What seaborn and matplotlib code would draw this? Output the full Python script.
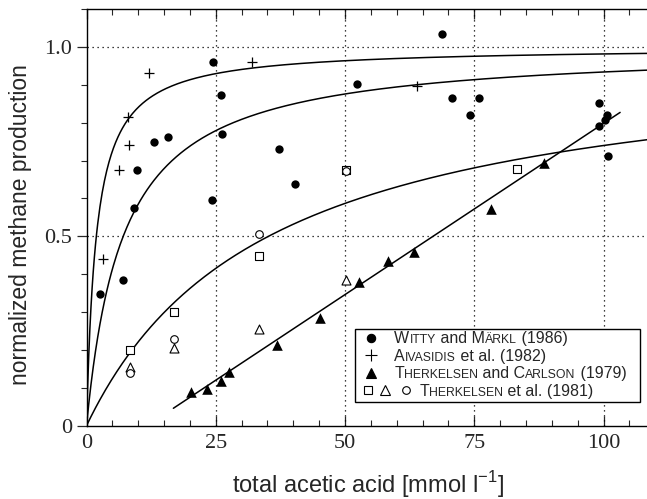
import numpy as np
import pandas as pd
import matplotlib
matplotlib.use('Agg')
import matplotlib.pyplot as plt
import seaborn as sns
from matplotlib.lines import Line2D
from matplotlib.ticker import MultipleLocator, FixedLocator, FuncFormatter
from matplotlib.offsetbox import AnchoredOffsetbox, DrawingArea, HPacker, VPacker, TextArea

# Witty and Maerkl (1986) - filled circles
witty_x = [2.6, 7.0, 9.2, 9.8, 13.1, 15.7, 24.3, 24.4, 26.1, 26.2, 37.3, 40.3,
           52.3, 68.8, 70.6, 74.2, 75.9, 99.1, 99.2, 100.3, 100.7, 100.9]
witty_y = [0.348, 0.384, 0.574, 0.674, 0.749, 0.763, 0.596, 0.960, 0.873, 0.769, 0.731, 0.637,
           0.902, 1.033, 0.864, 0.821, 0.864, 0.852, 0.790, 0.808, 0.820, 0.712]

# Aivasidis et al. (1982) - plus
aiva_x = [3.1, 6.3, 8.1, 8.3, 12.1, 32.1, 64.0]
aiva_y = [0.440, 0.675, 0.815, 0.741, 0.930, 0.960, 0.897]

# Therkelsen and Carlson (1979) - filled triangles
tc_x = [20.2, 23.4, 26.0, 27.6, 36.8, 45.2, 52.7, 58.4, 63.4, 78.2, 88.4]
tc_y = [0.089, 0.096, 0.118, 0.141, 0.214, 0.283, 0.380, 0.435, 0.459, 0.571, 0.694]

# Therkelsen et al. (1981) - open square / triangle / circle
t81_sq_x = [8.5, 16.9, 33.4, 50.1, 83.3]
t81_sq_y = [0.200, 0.299, 0.449, 0.675, 0.677]
t81_tri_x = [8.4, 16.9, 33.4, 50.1]
t81_tri_y = [0.156, 0.204, 0.254, 0.384]
t81_circ_x = [8.4, 16.9, 33.4, 50.1]
t81_circ_y = [0.138, 0.228, 0.505, 0.672]

# fitted curves: saturation constants (y = S/(K+S))
monod_K = [1.9, 7.1, 35.2]
# linear fit line end points
lin_x = [16.8, 103.2]
lin_y = [0.046, 0.827]

sns.set_style('ticks')
plt.rcParams['font.family'] = ['Liberation Sans', 'DejaVu Sans']

fig = plt.figure(figsize=(6.47, 4.99), dpi=100)
ax = fig.add_axes([0.1337, 0.1469, 0.8663, 0.8351])

xmax = 108.4
s_grid = np.linspace(0, xmax, 500)
for K in monod_K:
    sns.lineplot(x=s_grid, y=s_grid / (K + s_grid), color='black', lw=1.1, ax=ax)
sns.lineplot(x=lin_x, y=lin_y, color='black', lw=1.1, ax=ax)

sns.scatterplot(x=witty_x, y=witty_y, marker='o', s=36, color='black', linewidth=0, ax=ax, zorder=3)
sns.scatterplot(x=aiva_x, y=aiva_y, marker='+', s=60, color='black', linewidth=0.9, ax=ax, zorder=3)
sns.scatterplot(x=tc_x, y=tc_y, marker='^', s=58, color='black', linewidth=0, ax=ax, zorder=3)
sns.scatterplot(x=t81_sq_x, y=t81_sq_y, marker='s', s=30, color='black', facecolors='white',
                edgecolors='black', linewidth=0.8, ax=ax, zorder=3)
sns.scatterplot(x=t81_tri_x, y=t81_tri_y, marker='^', s=42, color='black', facecolors='white',
                edgecolors='black', linewidth=0.8, ax=ax, zorder=3)
sns.scatterplot(x=t81_circ_x, y=t81_circ_y, marker='o', s=30, color='black', facecolors='white',
                edgecolors='black', linewidth=0.8, ax=ax, zorder=3)

ax.set_xlim(0, xmax)
ax.set_ylim(0, 1.1)

ax.xaxis.set_major_locator(FixedLocator([0, 25, 50, 75, 100]))
ax.xaxis.set_minor_locator(MultipleLocator(5))
ax.yaxis.set_major_locator(FixedLocator([0, 0.5, 1.0]))
ax.yaxis.set_minor_locator(MultipleLocator(0.1))
ax.yaxis.set_major_formatter(FuncFormatter(lambda v, p: '0' if v == 0 else '%.1f' % v))

ax.tick_params(axis='x', which='both', direction='in', top=True, bottom=True, pad=6)
ax.tick_params(axis='x', which='major', length=7, width=0.9)
ax.tick_params(axis='x', which='minor', length=4, width=0.8)
ax.tick_params(axis='y', which='both', direction='out', left=True, right=False)
ax.tick_params(axis='y', which='major', length=7, width=0.9)
ax.tick_params(axis='y', which='minor', length=4, width=0.8)
for lab in ax.get_xticklabels() + ax.get_yticklabels():
    lab.set_fontfamily('Liberation Serif')
    lab.set_fontsize(16)

for side in ['left', 'bottom', 'top']:
    ax.spines[side].set_color('black')
    ax.spines[side].set_linewidth(1.0)
ax.spines['right'].set_visible(False)

ax.grid(False)
for gx in [25, 50, 75, 100]:
    ax.axvline(gx, color='black', ls=(0, (1, 3)), lw=0.9, zorder=1)
for gy in [0.5, 1.0]:
    ax.axhline(gy, color='black', ls=(0, (1, 3)), lw=0.9, zorder=1)

ax.set_xlabel('total acetic acid [mmol l$^{\\mathregular{-1}}$]', fontsize=17)
ax.set_ylabel('normalized methane production', fontsize=16.5)
ax.xaxis.set_label_coords(0.502, -0.103)
ax.yaxis.set_label_coords(-0.097, 0.482)

# legend with small-caps style author names
BIG, SMALL = 11.5, 8.8


def text_row(parts):
    boxes = []
    for txt, big in parts:
        boxes.append(TextArea(txt, textprops=dict(fontsize=BIG if big else SMALL,
                                                  family=['Liberation Sans', 'DejaVu Sans'])))
    return boxes


def marker_area(width, specs):
    da = DrawingArea(width, 8, 0, 0)
    for x, mk, ms, fc in specs:
        da.add_artist(Line2D([x], [4.0], marker=mk, ms=ms, color='black',
                             mfc=fc, mec='black', mew=0.8, ls='none'))
    return da


rows = [
    ([(9.4, 'o', 6, 'black')], [('W', True), ('ITTY', False), (' and M', True), ('ÄRKL', False), (' (1986)', True)]),
    ([(9.4, '+', 9, 'black')], [('A', True), ('IVASIDIS', False), (' et al. (1982)', True)]),
    ([(9.4, '^', 7.5, 'black')], [('T', True), ('HERKELSEN', False), (' and C', True), ('ARLSON', False), (' (1979)', True)]),
    ([(7.2, 's', 5.5, 'white'), (19.4, '^', 6.5, 'white'), (34.6, 'o', 5.5, 'white')],
     [('T', True), ('HERKELSEN', False), (' et al. (1981)', True)]),
]
packs = []
for i, (mk, parts) in enumerate(rows):
    da = marker_area(26 if i < 3 else 44, mk)
    packs.append(HPacker(children=[da] + text_row(parts), align='baseline', pad=0, sep=0))
vbox = VPacker(children=packs, align='left', pad=0, sep=1.8, width=279)
anchored = AnchoredOffsetbox(loc='lower right', child=vbox, pad=0.2, borderpad=0,
                             frameon=True, bbox_to_anchor=(0.9875, 0.0576),
                             bbox_transform=ax.transAxes)
anchored.patch.set_edgecolor('black')
anchored.patch.set_linewidth(1.0)
anchored.patch.set_boxstyle('square', pad=0)
ax.add_artist(anchored)

fig.savefig('out.png', dpi=100)
